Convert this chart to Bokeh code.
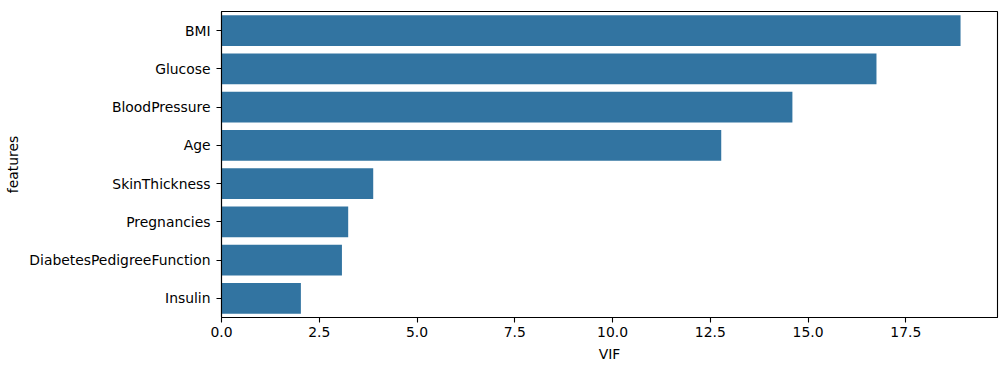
from bokeh.plotting import figure
from bokeh.models import FactorRange, Range1d, FixedTicker, NumeralTickFormatter, ColumnDataSource
from bokeh.embed import file_html
from bokeh.resources import INLINE

features = ["BMI", "Glucose", "BloodPressure", "Age", "SkinThickness",
            "Pregnancies", "DiabetesPedigreeFunction", "Insulin"]
vif = [18.9, 16.75, 14.6, 12.78, 3.88, 3.24, 3.08, 2.03]
x_ticks = [0, 2.5, 5.0, 7.5, 10.0, 12.5, 15.0, 17.5]

src = ColumnDataSource(dict(features=features, vif=vif))

p = figure(width=1005, height=371, output_backend="svg", toolbar_location=None,
           y_range=FactorRange(factors=list(reversed(features))),
           x_range=Range1d(0, max(vif) * 1.05),
           min_border_left=221, min_border_top=11, min_border_bottom=54, min_border_right=8)

p.hbar(y="features", right="vif", left=0, height=0.8, source=src,
       fill_color="#3274a1", line_color=None)

font = "DejaVu Sans"
for ax in (p.xaxis[0], p.yaxis[0]):
    ax.axis_line_color = "black"
    ax.axis_line_width = 1.1
    ax.major_tick_line_color = "black"
    ax.major_tick_line_width = 1.1
    ax.major_tick_out = 5
    ax.major_tick_in = 0
    ax.minor_tick_line_color = None
    ax.major_label_text_font = font
    ax.major_label_text_font_size = "13.9px"
    ax.major_label_text_color = "black"
    ax.axis_label_text_font = font
    ax.axis_label_text_font_size = "13.9px"
    ax.axis_label_text_font_style = "normal"
    ax.axis_label_text_color = "black"

p.xaxis.ticker = FixedTicker(ticks=x_ticks)
p.xaxis.formatter = NumeralTickFormatter(format="0.0")
p.xaxis.axis_label = "VIF"
p.xaxis.major_label_standoff = 4
p.xaxis.axis_label_standoff = 6
p.yaxis.axis_label = "features"
p.yaxis.major_label_standoff = 6
p.yaxis.axis_label_standoff = 5

p.xgrid.grid_line_color = None
p.ygrid.grid_line_color = None
p.outline_line_color = "black"
p.outline_line_width = 1.1
p.outline_line_alpha = 1.0
p.background_fill_color = "white"
p.border_fill_color = "white"

open("out.html", "w").write(file_html(p, INLINE))
